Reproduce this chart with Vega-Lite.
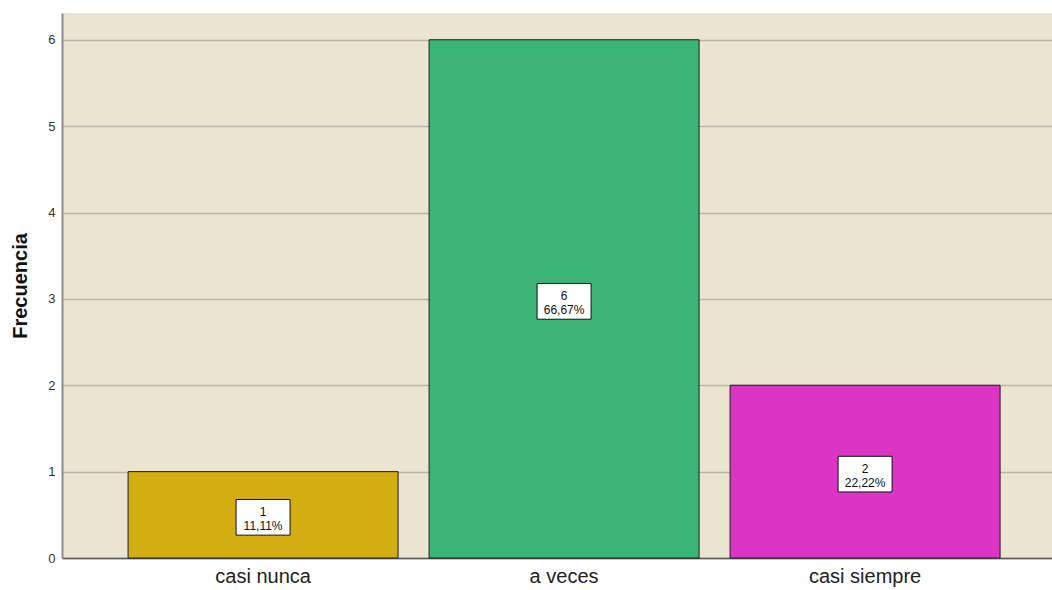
{
  "$schema": "https://vega.github.io/schema/vega-lite/v6.json",
  "width": 990,
  "height": 545,
  "autosize": "none",
  "padding": {"left": 62, "top": 13, "right": 0, "bottom": 32},
  "background": "#ffffff",
  "config": {
    "view": {"fill": "#EAE4D0", "stroke": null},
    "font": "Liberation Sans"
  },
  "data": {
    "values": [
      {"categoria": "casi nunca", "frecuencia": 1, "etiqueta": "1\n11,11%"},
      {"categoria": "a veces", "frecuencia": 6, "etiqueta": "6\n66,67%"},
      {"categoria": "casi siempre", "frecuencia": 2, "etiqueta": "2\n22,22%"}
    ]
  },
  "transform": [{"calculate": "datum.frecuencia / 2", "as": "mitad"}],
  "encoding": {
    "x": {
      "field": "categoria",
      "type": "nominal",
      "sort": ["casi nunca", "a veces", "casi siempre"],
      "scale": {"paddingInner": 0.103, "paddingOuter": 0.196, "align": 0.56},
      "axis": {
        "title": null,
        "labelAngle": 0,
        "labelFontSize": 20,
        "labelColor": "#222222",
        "labelPadding": 8,
        "ticks": false,
        "domainColor": "#555555",
        "domainWidth": 1.5,
        "grid": false
      }
    }
  },
  "layer": [
    {
      "mark": {"type": "bar", "stroke": "#1e1e1e", "strokeWidth": 1},
      "encoding": {
        "y": {
          "field": "frecuencia",
          "type": "quantitative",
          "scale": {"domain": [0, 6.31], "nice": false, "zero": true},
          "axis": {
            "title": "Frecuencia",
            "titleFontSize": 20,
            "titleFontWeight": "bold",
            "titleColor": "#111111",
            "titlePadding": 17,
            "values": [0, 1, 2, 3, 4, 5, 6],
            "format": "d",
            "labelFontSize": 13,
            "labelColor": "#333333",
            "labelPadding": 7,
            "ticks": false,
            "domainColor": "#8c8c8c",
            "domainWidth": 2,
            "grid": true,
            "gridColor": "#B9B6AE",
            "gridWidth": 1.5
          }
        },
        "color": {
          "field": "categoria",
          "type": "nominal",
          "scale": {
            "domain": ["casi nunca", "a veces", "casi siempre"],
            "range": ["#D2AE12", "#3BB477", "#DC34C4"]
          },
          "legend": null
        }
      }
    },
    {
      "mark": {
        "type": "point",
        "shape": "M-1,-0.66L1,-0.66L1,0.66L-1,0.66Z",
        "size": 2916,
        "filled": true,
        "fill": "#ffffff",
        "stroke": "#111111",
        "strokeWidth": 1,
        "opacity": 1,
        "yOffset": 2.5
      },
      "encoding": {
        "y": {"field": "mitad", "type": "quantitative"}
      }
    },
    {
      "mark": {
        "type": "text",
        "lineBreak": "\n",
        "fontSize": 12,
        "lineHeight": 14,
        "color": "#111111",
        "align": "center",
        "baseline": "middle",
        "yOffset": -2.5
      },
      "encoding": {
        "y": {"field": "mitad", "type": "quantitative"},
        "text": {"field": "etiqueta"}
      }
    }
  ]
}
